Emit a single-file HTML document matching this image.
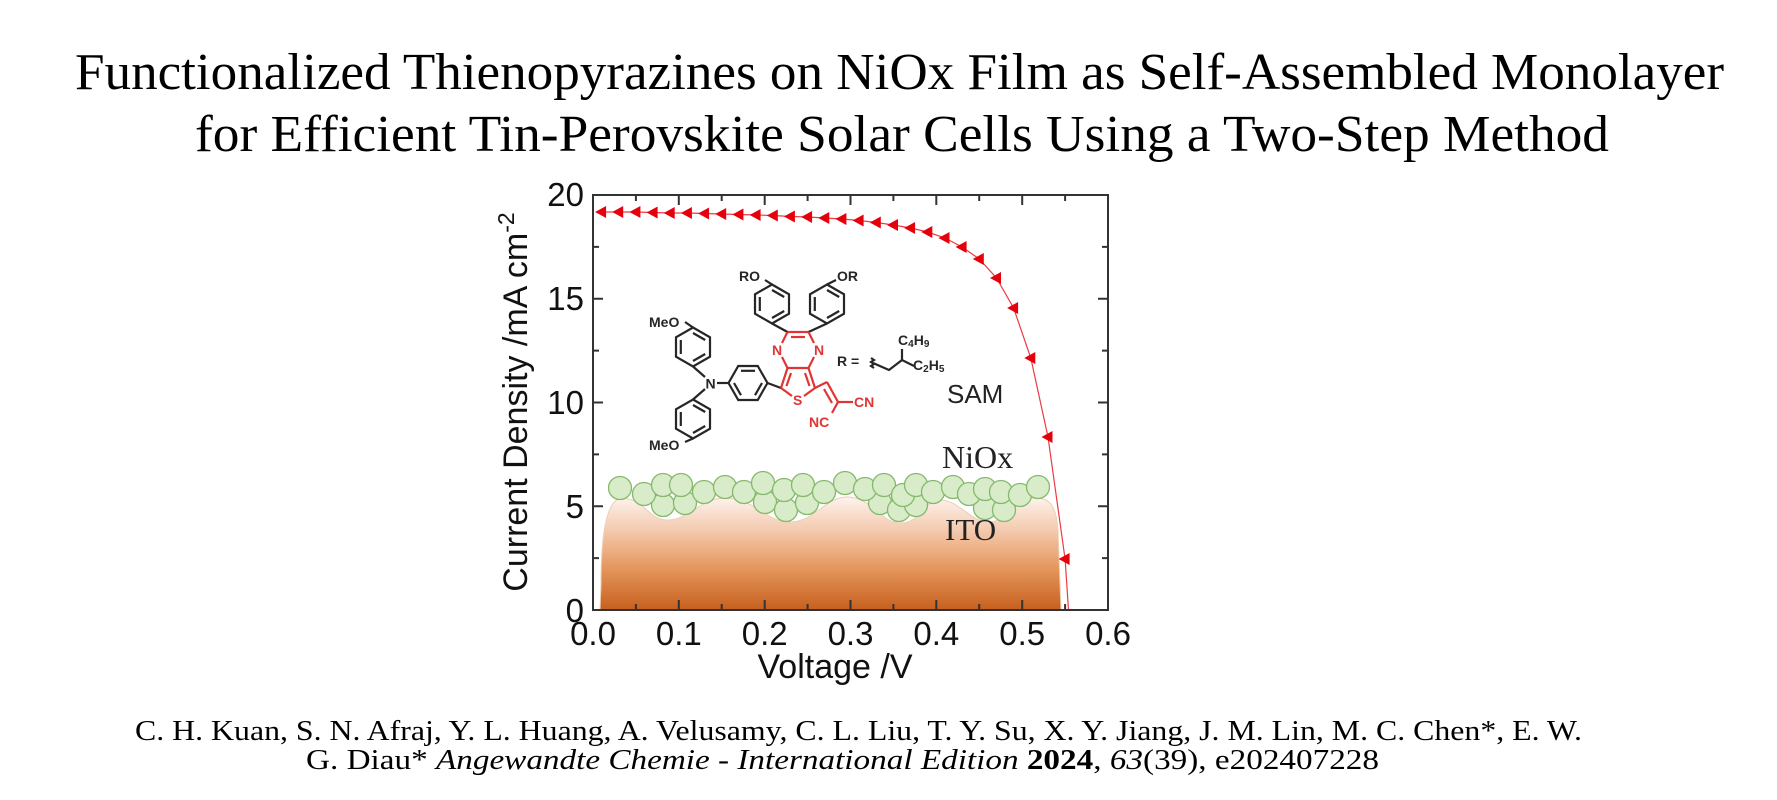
<!DOCTYPE html>
<html><head><meta charset="utf-8"><style>
html,body{margin:0;padding:0;background:#fff;}
svg{display:block;}
</style></head><body>
<svg width="1777" height="800" viewBox="0 0 1777 800" xmlns="http://www.w3.org/2000/svg">
<defs>
<linearGradient id="ito" x1="0" y1="497" x2="0" y2="610" gradientUnits="userSpaceOnUse">
<stop offset="0" stop-color="#fdf3ee"/>
<stop offset="0.3" stop-color="#f4c9ad"/>
<stop offset="0.62" stop-color="#e5985f"/>
<stop offset="1" stop-color="#c7601e"/>
</linearGradient>
<g id="bzP" fill="none" stroke="#262626" stroke-width="2.2">
<polygon points="0,-19.5 17,-9.75 17,9.75 0,19.5 -17,9.75 -17,-9.75"/>
<line x1="0" y1="-14" x2="12.2" y2="-7"/>
<line x1="12.2" y1="7" x2="0" y2="14"/>
<line x1="-12.2" y1="7" x2="-12.2" y2="-7"/>
</g>
<g id="bzF" fill="none" stroke="#262626" stroke-width="2.2">
<polygon points="19.5,0 9.75,17 -9.75,17 -19.5,0 -9.75,-17 9.75,-17"/>
<line x1="7" y1="-12.2" x2="-7" y2="-12.2"/>
<line x1="14" y1="0" x2="7" y2="12.2"/>
<line x1="-7" y1="12.2" x2="-14" y2="0"/>
</g>
<path id="tri" d="M -6.5 0 L 4.5 -6 L 4.5 6 Z" fill="#e6000c"/>
</defs>
<rect width="1777" height="800" fill="#fff"/>

<!-- Title -->
<g font-family="Liberation Serif, Times New Roman, serif" fill="#000" font-size="52">
<text x="75" y="89" textLength="1649" lengthAdjust="spacingAndGlyphs">Functionalized Thienopyrazines on NiOx Film as Self-Assembled  Monolayer</text>
<text x="195" y="151" textLength="1414" lengthAdjust="spacingAndGlyphs">for Efficient Tin-Perovskite Solar Cells Using a Two-Step Method</text>
</g>

<!-- ITO -->
<path d="M600,610 L601,585 C601,535 606,503 620,498 C645,498 648,520 667,520 C690,520 700,498 725,498 C755,498 765,522 790,522 C815,522 825,497 847,497 C872,497 880,523 901,523 C920,523 925,500 939,500 C960,500 970,522 989,522 C1008,522 1015,498 1035,498 C1050,498 1056,505 1058,530 L1061,610 Z" fill="url(#ito)" stroke="#ecd0b4" stroke-width="1"/>

<!-- NiOx circles -->
<g fill="#d8ecc9" stroke="#86b96e" stroke-width="1.3">
<circle cx="663" cy="505" r="11.5"/><circle cx="685" cy="503" r="11.5"/><circle cx="765" cy="502" r="11.5"/><circle cx="786" cy="510" r="11.5"/><circle cx="807" cy="503" r="11.5"/><circle cx="880" cy="503" r="11.5"/><circle cx="899" cy="510" r="11.5"/><circle cx="916" cy="505" r="11.5"/><circle cx="985" cy="508" r="11.5"/><circle cx="1004" cy="510" r="11.5"/>
<circle cx="620" cy="488" r="11.5"/><circle cx="644" cy="494" r="11.5"/><circle cx="663" cy="485" r="11.5"/><circle cx="681" cy="485" r="11.5"/><circle cx="704" cy="492" r="11.5"/><circle cx="725" cy="487" r="11.5"/><circle cx="744" cy="492" r="11.5"/><circle cx="763" cy="483" r="11.5"/><circle cx="784" cy="490" r="11.5"/><circle cx="803" cy="485" r="11.5"/><circle cx="824" cy="492" r="11.5"/><circle cx="845" cy="483" r="11.5"/><circle cx="865" cy="489" r="11.5"/><circle cx="884" cy="485" r="11.5"/><circle cx="903" cy="495" r="11.5"/><circle cx="916" cy="485" r="11.5"/><circle cx="933" cy="492" r="11.5"/><circle cx="953" cy="487" r="11.5"/><circle cx="969" cy="494" r="11.5"/><circle cx="985" cy="489" r="11.5"/><circle cx="1001" cy="492" r="11.5"/><circle cx="1020" cy="495" r="11.5"/><circle cx="1038" cy="487" r="11.5"/>
</g>

<!-- Labels inside -->
<text x="947" y="403" font-family="Liberation Sans, Arial, sans-serif" font-size="26" fill="#222">SAM</text>
<text x="942" y="468" font-family="Liberation Serif, Times New Roman, serif" font-size="32" fill="#222">NiOx</text>
<text x="945" y="540" font-family="Liberation Serif, Times New Roman, serif" font-size="31" fill="#222">ITO</text>

<!-- Molecule -->
<use href="#bzP" x="693" y="347"/>
<use href="#bzP" x="693" y="419"/>
<use href="#bzF" x="748" y="383"/>
<use href="#bzP" x="772" y="304"/>
<use href="#bzP" x="827" y="304"/>
<g stroke="#262626" stroke-width="2.2" fill="none">
<line x1="693" y1="327.5" x2="685" y2="322"/>
<line x1="693" y1="366.5" x2="705" y2="377"/>
<line x1="705" y1="389" x2="693" y2="399.5"/>
<line x1="717" y1="383" x2="728.5" y2="383"/>
<line x1="767.5" y1="383" x2="781" y2="388"/>
<line x1="693" y1="438.5" x2="685" y2="442"/>
<line x1="772" y1="284.5" x2="765" y2="280"/>
<line x1="772" y1="323.5" x2="787.5" y2="332"/>
<line x1="827" y1="284.5" x2="836" y2="280"/>
<line x1="827" y1="323.5" x2="808.5" y2="332"/>
<path d="M871,358 l3,2 l-3,2 l3,2 l-3,2 l3,2"/>
<polyline points="873,363 889,370 902,360 914,366"/>
<line x1="902" y1="360" x2="902" y2="349"/>
</g>
<g stroke="#e03535" stroke-width="2.2" fill="none">
<line x1="787.5" y1="332" x2="808.5" y2="332"/>
<line x1="791" y1="337" x2="805" y2="337"/>
<line x1="808.5" y1="332" x2="814" y2="343"/>
<line x1="814" y1="357" x2="808.5" y2="368"/>
<line x1="808.5" y1="368" x2="787.5" y2="368"/>
<line x1="787.5" y1="368" x2="782" y2="357"/>
<line x1="782" y1="343" x2="787.5" y2="332"/>
<line x1="787.5" y1="368" x2="781" y2="388"/>
<line x1="791" y1="373" x2="786.5" y2="386"/>
<line x1="808.5" y1="368" x2="815" y2="388"/>
<line x1="805" y1="373" x2="809.5" y2="386"/>
<line x1="781" y1="388" x2="792" y2="396"/>
<line x1="815" y1="388" x2="804" y2="396"/>
<line x1="815" y1="388" x2="827" y2="382"/>
<line x1="827" y1="382" x2="838" y2="402"/>
<line x1="824" y1="389" x2="832" y2="403"/>
<line x1="838" y1="402" x2="853" y2="402"/>
<line x1="838" y1="402" x2="832" y2="413"/>
</g>
<g font-family="Liberation Sans, Arial, sans-serif" font-size="14" font-weight="bold" fill="#262626">
<text x="649" y="327">MeO</text>
<text x="649" y="450">MeO</text>
<text x="739" y="281">RO</text>
<text x="837" y="281">OR</text>
<text x="705.5" y="388.5">N</text>
<text x="837" y="366">R =</text>
<text x="898" y="345">C<tspan font-size="10" dy="2">4</tspan><tspan dy="-2">H</tspan><tspan font-size="10" dy="2">9</tspan></text>
<text x="913" y="370">C<tspan font-size="10" dy="2">2</tspan><tspan dy="-2">H</tspan><tspan font-size="10" dy="2">5</tspan></text>
</g>
<g font-family="Liberation Sans, Arial, sans-serif" font-size="14" font-weight="bold" fill="#e03535">
<text x="772" y="355">N</text>
<text x="814" y="355">N</text>
<text x="793" y="405">S</text>
<text x="854" y="407">CN</text>
<text x="809" y="427">NC</text>
</g>

<!-- Data line -->
<polyline fill="none" stroke="#ec3a42" stroke-width="1.2" points="601.6,212 618.7,212 635.9,212 653.1,212.5 670.2,213 687.4,213 704.6,213.5 721.7,214 738.9,214.5 756.1,215 773.3,215.5 790.4,216.5 807.6,217 824.8,218 841.9,219 859.1,220.5 876.3,222.5 893.5,225 910.6,228 927.8,232 945,238 962.1,247 979.3,259 996.5,278 1013.6,308 1030.8,358 1048,437 1065.1,559 1068.5,610"/>
<g>
<use href="#tri" x="601.6" y="212"/><use href="#tri" x="618.7" y="212"/><use href="#tri" x="635.9" y="212"/><use href="#tri" x="653.1" y="212.5"/><use href="#tri" x="670.2" y="213"/><use href="#tri" x="687.4" y="213"/><use href="#tri" x="704.6" y="213.5"/><use href="#tri" x="721.7" y="214"/><use href="#tri" x="738.9" y="214.5"/><use href="#tri" x="756.1" y="215"/><use href="#tri" x="773.3" y="215.5"/><use href="#tri" x="790.4" y="216.5"/><use href="#tri" x="807.6" y="217"/><use href="#tri" x="824.8" y="218"/><use href="#tri" x="841.9" y="219"/><use href="#tri" x="859.1" y="220.5"/><use href="#tri" x="876.3" y="222.5"/><use href="#tri" x="893.5" y="225"/><use href="#tri" x="910.6" y="228"/><use href="#tri" x="927.8" y="232"/><use href="#tri" x="945" y="238"/><use href="#tri" x="962.1" y="247"/><use href="#tri" x="979.3" y="259"/><use href="#tri" x="996.5" y="278"/><use href="#tri" x="1013.6" y="308"/><use href="#tri" x="1030.8" y="358"/><use href="#tri" x="1048" y="437"/><use href="#tri" x="1065.1" y="559"/>
</g>

<!-- Axes frame and ticks -->
<g stroke="#333" stroke-width="2" fill="none">
<rect x="593" y="195" width="515" height="415"/>
<path d="M593,610v-10M678.8,610v-10M764.7,610v-10M850.5,610v-10M936.3,610v-10M1022.2,610v-10M1108,610v-10
M593,195v10M678.8,195v10M764.7,195v10M850.5,195v10M936.3,195v10M1022.2,195v10M1108,195v10"/>
<path d="M635.9,610v-6M721.7,610v-6M807.6,610v-6M893.4,610v-6M979.2,610v-6M1065.1,610v-6
M635.9,195v6M721.7,195v6M807.6,195v6M893.4,195v6M979.2,195v6M1065.1,195v6"/>
<path d="M593,610h10M593,506.25h10M593,402.5h10M593,298.75h10M593,195h10
M1108,610h-10M1108,506.25h-10M1108,402.5h-10M1108,298.75h-10M1108,195h-10"/>
<path d="M593,558.1h6M593,454.4h6M593,350.6h6M593,246.9h6
M1108,558.1h-6M1108,454.4h-6M1108,350.6h-6M1108,246.9h-6"/>
</g>

<!-- Tick labels -->
<g font-family="Liberation Sans, Arial, sans-serif" font-size="33" fill="#111">
<g text-anchor="end">
<text x="584" y="206">20</text>
<text x="584" y="310">15</text>
<text x="584" y="414">10</text>
<text x="584" y="518">5</text>
<text x="584" y="622">0</text>
</g>
<g text-anchor="middle">
<text x="593" y="645">0.0</text>
<text x="678.8" y="645">0.1</text>
<text x="764.7" y="645">0.2</text>
<text x="850.5" y="645">0.3</text>
<text x="936.3" y="645">0.4</text>
<text x="1022.2" y="645">0.5</text>
<text x="1108" y="645">0.6</text>
</g>
</g>
<text x="835" y="678" text-anchor="middle" font-family="Liberation Sans, Arial, sans-serif" font-size="34" fill="#111">Voltage /V</text>
<text transform="translate(527,402) rotate(-90)" text-anchor="middle" font-family="Liberation Sans, Arial, sans-serif" font-size="34" fill="#111">Current Density /mA cm<tspan font-size="23" dy="-13">-2</tspan></text>

<!-- Citation -->
<g font-family="Liberation Serif, Times New Roman, serif" font-size="29" fill="#000">
<text x="135" y="740" textLength="1447" lengthAdjust="spacingAndGlyphs">C. H. Kuan,  S. N. Afraj, Y. L. Huang,  A. Velusamy,  C. L. Liu, T. Y. Su, X. Y. Jiang, J. M. Lin, M. C. Chen*,  E. W.</text>
<text x="306" y="769" textLength="1073" lengthAdjust="spacingAndGlyphs">G. Diau* <tspan font-style="italic">Angewandte Chemie - International Edition</tspan> <tspan font-weight="bold">2024</tspan>, <tspan font-style="italic">63</tspan>(39), e202407228</text>
</g>
</svg>
</body></html>
